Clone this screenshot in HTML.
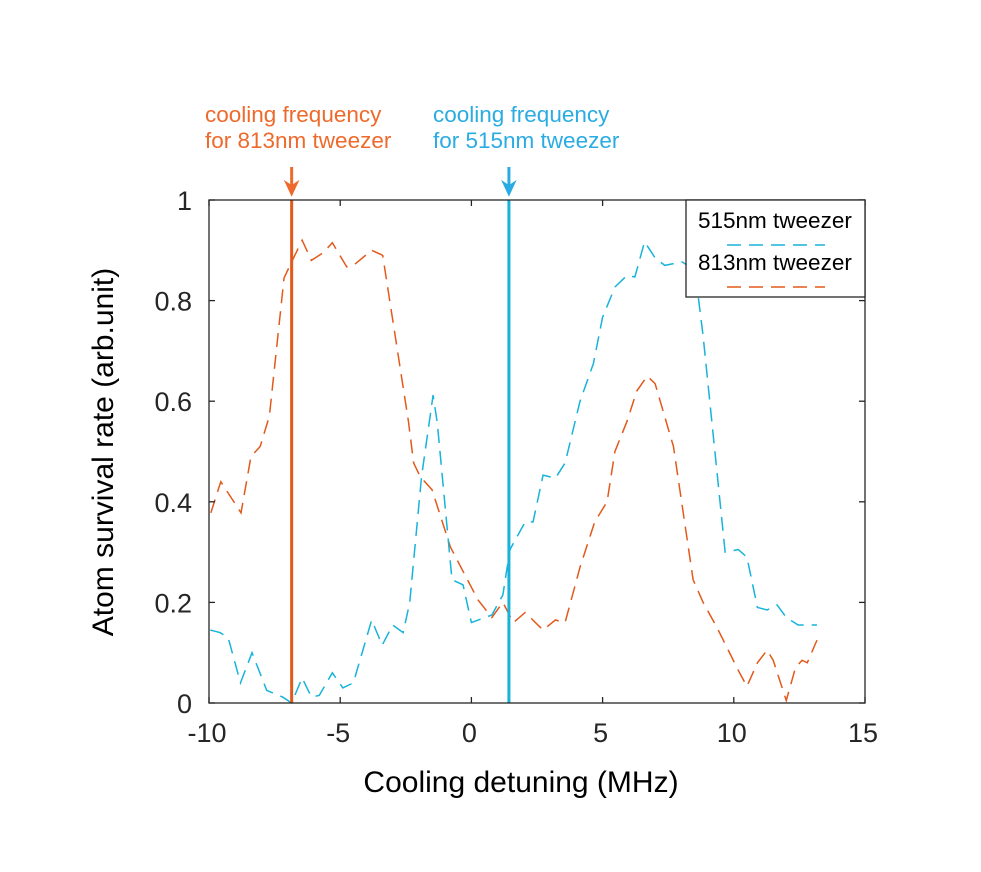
<!DOCTYPE html>
<html><head><meta charset="utf-8"><style>
html,body{margin:0;padding:0;background:#fff;}
svg{display:block;font-family:"Liberation Sans",Arial,sans-serif;}
</style></head><body>
<svg id="chart" width="981" height="872" viewBox="0 0 981 872">
<g id="plot"></g>
</svg>
<script>
const x813 = [-9.93,-9.55,-8.78,-8.4,-8.05,-7.7,-7.14,-6.85,-6.45,-6.1,-5.65,-5.3,-4.75,-4.5,-3.8,-3.38,-2.4,-2.2,-1.95,-1.5,-0.8,-0.5,0.25,0.78,1.2,1.6,2.05,2.73,3.2,3.57,4.14,4.7,5.17,5.47,5.93,6.3,6.7,7.0,7.7,8.45,8.83,9.36,10.17,10.5,10.9,11.27,11.5,12.0,12.35,12.6,12.8,13.17];
const y813 = [0.378,0.44,0.378,0.49,0.51,0.57,0.845,0.877,0.92,0.88,0.895,0.915,0.867,0.87,0.9,0.89,0.56,0.477,0.45,0.424,0.31,0.28,0.205,0.17,0.2,0.16,0.18,0.145,0.165,0.16,0.27,0.36,0.4,0.5,0.56,0.62,0.65,0.635,0.51,0.245,0.2,0.15,0.065,0.033,0.08,0.105,0.085,0.005,0.07,0.085,0.08,0.125];
const x515 = [-9.95,-9.58,-9.27,-8.8,-8.36,-7.8,-7.2,-6.85,-6.45,-6.1,-5.8,-5.3,-4.9,-4.5,-3.8,-3.4,-3.0,-2.6,-2.35,-1.9,-1.46,-1.3,-0.74,-0.32,0.0,0.78,1.2,1.47,2.05,2.35,2.73,3.2,3.57,4.14,4.65,5.0,5.47,5.93,6.23,6.6,7.0,7.37,8.03,8.52,8.83,9.67,10.17,10.5,10.9,11.27,11.65,12.0,12.45,13.17];
const y515 = [0.145,0.14,0.13,0.04,0.1,0.025,0.012,0,0.05,0.012,0.015,0.06,0.03,0.04,0.165,0.115,0.155,0.14,0.2,0.45,0.612,0.557,0.245,0.235,0.16,0.175,0.215,0.305,0.36,0.36,0.453,0.447,0.477,0.6,0.675,0.767,0.827,0.85,0.847,0.917,0.885,0.87,0.877,0.86,0.73,0.3,0.305,0.29,0.19,0.185,0.195,0.17,0.155,0.155];
const xTicks = [-10,-5,0,5,10,15];
const yTicks = [0,0.2,0.4,0.6,0.8,1];
const yTickLabels = ["0","0.2","0.4","0.6","0.8","1"];
const markers = [-6.85, 1.43];

const L=209,R=865,T=200,B=703;
const sx=v=>L+(v+10)/25*(R-L);
const sy=v=>B-v*(B-T);
const NS="http://www.w3.org/2000/svg";
const g=document.getElementById('plot');
function mk(tag,attrs,parent){const e=document.createElementNS(NS,tag);for(const k in attrs)e.setAttribute(k,attrs[k]);(parent||g).appendChild(e);return e;}
const ORANGE="#E2591B", BLUE="#17B3DA", OA="#EE6A2C", BA="#2AACE2";

const p813=mk('polyline',{points:x813.map((x,i)=>sx(x)+','+sy(y813[i])).join(' '),fill:'none',stroke:ORANGE,'stroke-width':1.5,'stroke-dasharray':'14,8'});


const p515=mk('polyline',{points:x515.map((x,i)=>sx(x)+','+sy(y515[i])).join(' '),fill:'none',stroke:BLUE,'stroke-width':1.5,'stroke-dasharray':'14,8'});



const cols=[ORANGE,BLUE], acols=[OA,BA];
markers.forEach((m,i)=>{
  const ln=mk('line',{x1:sx(m),x2:sx(m),y1:T,y2:B,stroke:cols[i],'stroke-width':3});
  
  
  const a=mk('line',{x1:sx(m),x2:sx(m),y1:167,y2:188,stroke:acols[i],'stroke-width':3});
  
  
  const h=mk('polygon',{points:(sx(m)-6)+',182 '+sx(m)+',195 '+(sx(m)+6)+',182 '+sx(m)+',186',fill:acols[i],stroke:acols[i],'stroke-width':1.5});
  
  
});

const box=mk('rect',{x:L,y:T,width:R-L,height:B-T,fill:'none',stroke:'#262626','stroke-width':1.3});


xTicks.forEach(v=>{
  mk('line',{x1:sx(v),x2:sx(v),y1:B,y2:B-6,stroke:'#262626','stroke-width':1.3});
  mk('line',{x1:sx(v),x2:sx(v),y1:T,y2:T+6,stroke:'#262626','stroke-width':1.3});
  const t=mk('text',{x:sx(v)-2,y:742,'text-anchor':'middle','font-size':27,fill:'#262626'});
  t.textContent=String(v);
  
  
});
yTicks.forEach((v,i)=>{
  mk('line',{x1:L,x2:L+6,y1:sy(v),y2:sy(v),stroke:'#262626','stroke-width':1.3});
  mk('line',{x1:R,x2:R-6,y1:sy(v),y2:sy(v),stroke:'#262626','stroke-width':1.3});
  const t=mk('text',{x:192,y:sy(v)+10,'text-anchor':'end','font-size':27,fill:'#262626'});
  t.textContent=yTickLabels[i];
  
  
});
</script>
<svg x="0" y="0" width="981" height="872" style="position:absolute;left:0;top:0">
<text x="521" y="792" text-anchor="middle" font-size="30" fill="#000">Cooling detuning (MHz)</text>
<text transform="translate(113,452) rotate(-90)" text-anchor="middle" font-size="30" fill="#000">Atom survival rate (arb.unit)</text>
<text x="205" y="122" font-size="22.5" fill="#EE6A2C">cooling frequency</text>
<text x="205" y="148" font-size="22.5" fill="#EE6A2C">for 813nm tweezer</text>
<text x="433" y="122" font-size="22.5" fill="#2AACE2">cooling frequency</text>
<text x="433" y="148" font-size="22.5" fill="#2AACE2">for 515nm tweezer</text>
<g>
<rect x="686" y="200" width="179" height="97" fill="#fff" stroke="#262626" stroke-width="1.3"/>
<text x="698" y="228" font-size="22.5" fill="#000">515nm tweezer</text>
<line x1="727" y1="245" x2="825" y2="245" stroke="#17B3DA" stroke-width="1.5" stroke-dasharray="14,8"/>
<text x="698" y="270" font-size="22.5" fill="#000">813nm tweezer</text>
<line x1="727" y1="287" x2="825" y2="287" stroke="#E2591B" stroke-width="1.5" stroke-dasharray="14,8"/>
</g>
</svg>
</body></html>
